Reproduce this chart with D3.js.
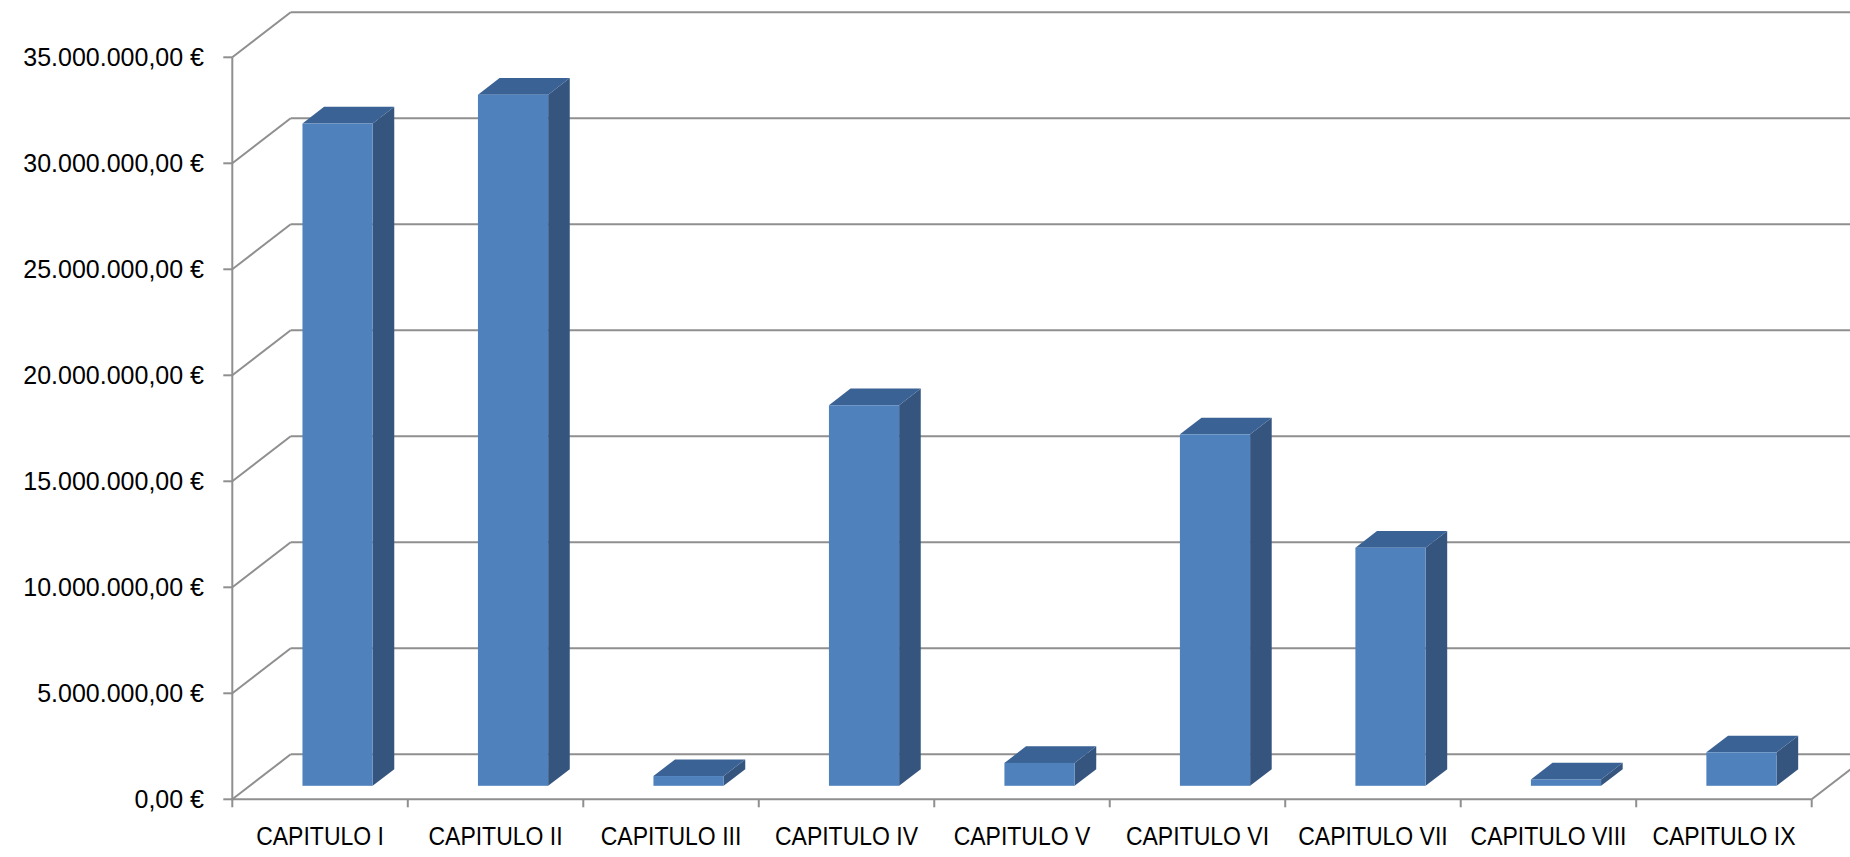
<!DOCTYPE html>
<html>
<head>
<meta charset="utf-8">
<script src="https://cdn.jsdelivr.net/npm/d3@7"></script>
<style>
  html, body { margin: 0; padding: 0; background: #ffffff; }
  svg { display: block; }
  text { font-family: "Liberation Sans", Arial, sans-serif; fill: #000; }
</style>
</head>
<body>
<svg id="chart" width="1850" height="857"></svg>
<script>
// Budget by chapter (euros)
const categories = ["CAPITULO I", "CAPITULO II", "CAPITULO III", "CAPITULO IV", "CAPITULO V",
                    "CAPITULO VI", "CAPITULO VII", "CAPITULO VIII", "CAPITULO IX"];
const values = [31240000, 32600000, 460000, 17950000, 1080000, 16580000, 11230000, 300000, 1580000];
const yTicks = [0, 5000000, 10000000, 15000000, 20000000, 25000000, 30000000, 35000000];

const W = 1850, H = 857;
const svg = d3.select("#chart");

// front plane of the 3D box
const plot = { left: 232.3, right: 1811.7, bottom: 799.3, top: 57.3 };
// full depth offset of the box (front -> back wall)
const depth = { dx: 58.4, dy: 45 };
// bars sit between these depth fractions
const barFront = 0.30, barBack = 0.67;

const x = d3.scaleBand().domain(categories)
  .range([plot.left, plot.right]).paddingInner(0.6).paddingOuter(0.3);
const y = d3.scaleLinear().domain([0, 35000000]).range([plot.bottom, plot.top]);

// project a point on the front plane into the given depth
const proj = (px, py, d) => [px + d * depth.dx, py - d * depth.dy];

const locale = d3.formatLocale({ decimal: ",", thousands: ".", grouping: [3], currency: ["", " €"] });
const fmt = locale.format("$,.2f");

const gridColor = "#8f8f8f";
const gw = 2;

// back wall gridlines + left wall diagonals
const grid = svg.append("g");
yTicks.forEach(t => {
  const yf = y(t);
  const [bx, by] = proj(plot.left, yf, 1);
  const [rx] = proj(plot.right, yf, 1);
  grid.append("line").attr("x1", bx).attr("y1", by).attr("x2", rx).attr("y2", by)
    .attr("stroke", gridColor).attr("stroke-width", gw);
  grid.append("line").attr("x1", plot.left).attr("y1", yf).attr("x2", bx).attr("y2", by)
    .attr("stroke", gridColor).attr("stroke-width", gw);
});
// right floor edge
{
  const [rx, ry] = proj(plot.right, plot.bottom, 1);
  grid.append("line").attr("x1", plot.right).attr("y1", plot.bottom).attr("x2", rx).attr("y2", ry)
    .attr("stroke", gridColor).attr("stroke-width", gw);
}

// bars
const colFront = "#4f81bd", colSide = "#35557f", colTop = "#3a6294";
const bars = svg.append("g");
const ddx = (barBack - barFront) * depth.dx, ddy = (barBack - barFront) * depth.dy;
categories.forEach((c, i) => {
  const v = values[i];
  const [x0, yTop] = proj(x(c), y(v), barFront);
  const [, yBot] = proj(x(c), y(0), barFront);
  const x1 = x0 + x.bandwidth();
  const pts = a => a.map(p => p.join(",")).join(" ");
  bars.append("polygon")
    .attr("points", pts([[x1, yTop], [x1 + ddx, yTop - ddy], [x1 + ddx, yBot - ddy], [x1, yBot]]))
    .attr("fill", colSide);
  bars.append("polygon")
    .attr("points", pts([[x0, yTop], [x0 + ddx, yTop - ddy], [x1 + ddx, yTop - ddy], [x1, yTop]]))
    .attr("fill", colTop);
  bars.append("rect").attr("x", x0).attr("y", yTop)
    .attr("width", x.bandwidth()).attr("height", yBot - yTop).attr("fill", colFront);
});

// value axis (front)
const ax = svg.append("g");
ax.append("line").attr("x1", plot.left).attr("y1", plot.top).attr("x2", plot.left).attr("y2", plot.bottom + 1)
  .attr("stroke", gridColor).attr("stroke-width", gw);
yTicks.forEach(t => {
  ax.append("line").attr("x1", plot.left - 9).attr("x2", plot.left).attr("y1", y(t)).attr("y2", y(t))
    .attr("stroke", gridColor).attr("stroke-width", gw);
  ax.append("text").attr("x", 204).attr("y", y(t) + 9).attr("text-anchor", "end")
    .attr("font-size", "25px").text(fmt(t));
});

// category axis (front floor edge)
const cx = svg.append("g");
cx.append("line").attr("x1", plot.left).attr("x2", plot.right).attr("y1", plot.bottom).attr("y2", plot.bottom)
  .attr("stroke", gridColor).attr("stroke-width", gw);
d3.range(categories.length + 1).forEach(i => {
  const tx = plot.left + i * (plot.right - plot.left) / categories.length;
  cx.append("line").attr("x1", tx).attr("x2", tx).attr("y1", plot.bottom).attr("y2", plot.bottom + 8)
    .attr("stroke", gridColor).attr("stroke-width", gw);
});
categories.forEach((c, i) => {
  const tx = plot.left + (i + 0.5) * (plot.right - plot.left) / categories.length;
  cx.append("text").attr("text-anchor", "middle")
    .attr("transform", `translate(${tx},845) scale(0.92,1)`)
    .attr("font-size", "25px").text(c);
});
</script>
</body>
</html>
